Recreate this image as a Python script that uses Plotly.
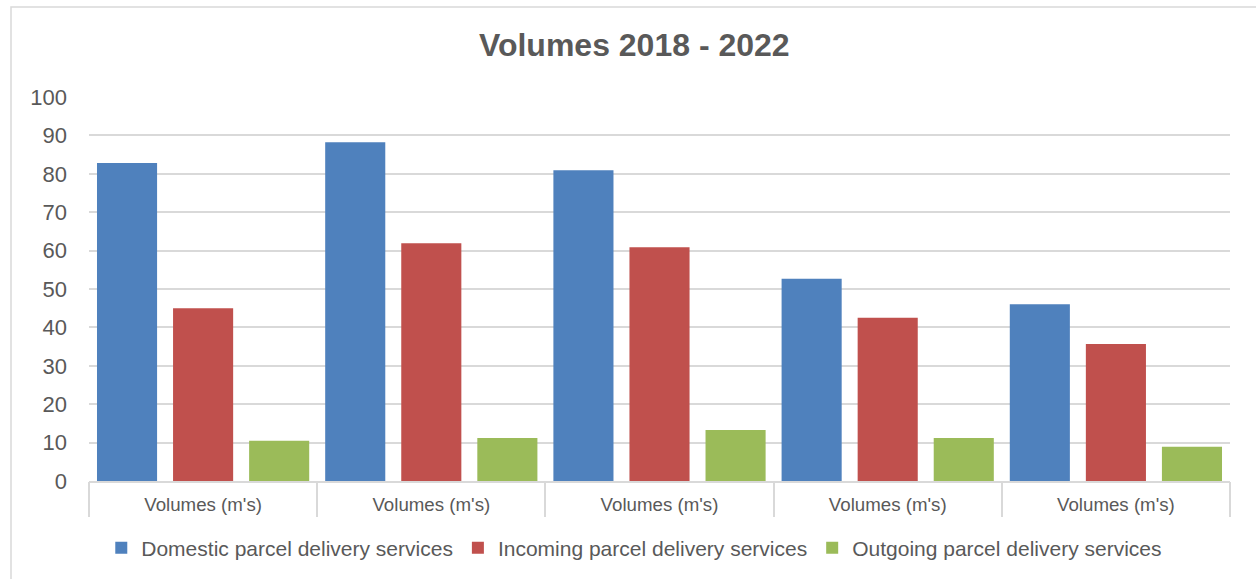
import plotly.graph_objects as go

# Parcel volumes (millions) by year
years = ["2018", "2019", "2020", "2021", "2022"]
tick_labels = ["Volumes (m's)"] * len(years)
domestic = [82.8, 88.2, 80.9, 52.7, 46.0]
incoming = [45.0, 61.9, 60.9, 42.5, 35.7]
outgoing = [10.5, 11.2, 13.3, 11.2, 8.9]

series = [
    ("Domestic parcel delivery services", domestic, "#4F81BD"),
    ("Incoming parcel delivery services", incoming, "#C0504D"),
    ("Outgoing parcel delivery services", outgoing, "#9BBB59"),
]

GRID = "#D9D9D9"
TEXT = "#595959"
FONT = "Arial, Liberation Sans, sans-serif"

fig = go.Figure()
for name, vals, color in series:
    fig.add_trace(go.Bar(
        x=years, y=vals, name=name,
        marker=dict(color=color, line=dict(width=0)),
    ))

# transparent helper trace so the divider-tick axis has categories
fig.add_trace(go.Scatter(
    x=years, y=domestic, xaxis="x2", mode="markers",
    marker=dict(opacity=0), showlegend=False, hoverinfo="skip",
))

W, H = 1256, 579
L, R, T, B = 89, 26, 97, 98
pw, ph = W - L - R, H - T - B

fig.update_layout(
    width=W, height=H, autosize=False,
    margin=dict(l=L, r=R, t=T, b=B, pad=0),
    paper_bgcolor="white", plot_bgcolor="white",
    font=dict(family=FONT, color=TEXT),
    barmode="group", bargap=0.0, bargroupgap=0.21,
    title=dict(
        text="<b>Volumes 2018 - 2022</b>",
        font=dict(size=32, color=TEXT, family=FONT),
        x=0.505, xref="container", xanchor="center",
        y=1 - 45 / H, yref="container", yanchor="middle",
    ),
    xaxis=dict(
        type="category", range=[-0.5, 4.5],
        tickmode="array", tickvals=years, ticktext=tick_labels,
        ticks="", showgrid=False, zeroline=False,
        showline=True, linecolor=GRID, linewidth=1.5,
        tickfont=dict(size=18.7, color=TEXT),
        ticklabelstandoff=6,
    ),
    xaxis2=dict(
        type="category", overlaying="x", anchor="y", side="bottom",
        categoryorder="array", categoryarray=years, range=[-0.5, 4.5],
        tickson="boundaries", ticks="outside", ticklen=35,
        tickcolor=GRID, tickwidth=1.5,
        showticklabels=False, showgrid=False, showline=False, zeroline=False,
    ),
    yaxis=dict(
        range=[0, 100], dtick=10, tick0=0,
        showgrid=True, gridcolor=GRID, gridwidth=1.5,
        zeroline=False, showline=False, ticks="",
        tickfont=dict(size=22, color=TEXT),
        ticklabelstandoff=21,
    ),
    legend=dict(
        orientation="h",
        x=0.505, xref="container", xanchor="center",
        y=1 - 548 / H, yref="container", yanchor="middle",
        font=dict(size=21, color=TEXT),
        bgcolor="rgba(0,0,0,0)",
        itemclick=False, itemdoubleclick=False,
    ),
    shapes=[dict(
        type="rect", xref="paper", yref="paper",
        x0=(11 - L) / pw, x1=1.2,
        y0=-0.6, y1=(H - B - 7) / ph,
        line=dict(color=GRID, width=1.5), fillcolor="rgba(0,0,0,0)",
        layer="below",
    )],
)

fig.write_html("out.html")
